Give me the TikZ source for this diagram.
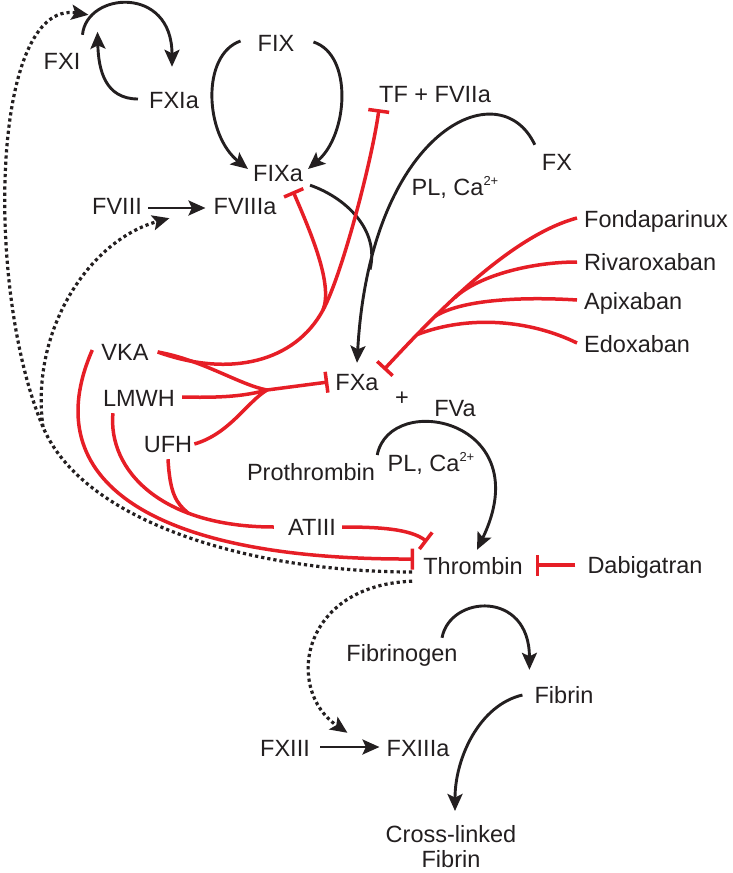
\documentclass[tikz,border=0pt]{standalone}
\usepackage{fontspec}
\setmainfont{Liberation Sans}
\usetikzlibrary{arrows.meta}
\definecolor{inhred}{RGB}{230,30,38}
\definecolor{txtblack}{RGB}{35,31,32}
\newcommand{\ionsup}{\raisebox{10pt}{\fontsize{13}{13}\selectfont 2+}}

\begin{document}
\begin{tikzpicture}
[x=1pt, y=-1pt,
 every node/.style={inner sep=2pt, text height=17pt, text depth=5pt, text=txtblack, font=\fontsize{23.5}{25}\selectfont},
 act/.style={line width=2.9pt, draw=txtblack, -{Stealth[length=17pt, width=15pt, inset=3.5pt]}},
 blackline/.style={line width=2.9pt, draw=txtblack},
 inh/.style={line width=3.5pt, draw=inhred, -{Bar[width=21pt]}},
 redline/.style={line width=3.5pt, draw=inhred},
 feedback/.style={line width=3.2pt, draw=txtblack, dash pattern=on 3.2pt off 3pt, -{Stealth[length=17pt, width=15pt, inset=3.5pt]}}]
\useasboundingbox (0,0) rectangle (733,873);
\node (fxi) at (62,63) {FXI};
\node (fxia) at (174,102) {FXIa};
\node (fix) at (276,45) {FIX};
\node (fixa) at (278,175) {FIXa};
\node (fviii) at (117,208) {FVIII};
\node (fviiia) at (245,208) {FVIIIa};
\node (tf) at (435,96) {TF + FVIIa};
\node (fx) at (557,164) {FX};
\node (plca) at (455,189) {PL, Ca\ionsup};
\node (fonda) [anchor=west] at (582,221) {Fondaparinux};
\node (riva) [anchor=west] at (582,264) {Rivaroxaban};
\node (apix) [anchor=west] at (582,303) {Apixaban};
\node (edox) [anchor=west] at (582,346) {Edoxaban};
\node (vka) at (125,354) {VKA};
\node (lmwh) at (139,400) {LMWH};
\node (ufh) at (168,446) {UFH};
\node (fxa) at (357,384) {FXa};
\node (plus) at (402,399) {+};
\node (fva) at (455,410) {FVa};
\node (prot) at (311,474) {Prothrombin};
\node (plcb) at (431,465) {PL, Ca\ionsup};
\node (atiii) at (312,529) {ATIII};
\node (thr) at (473,568) {Thrombin};
\node (dabi) at (645,567) {Dabigatran};
\node (fbg) at (402,655) {Fibrinogen};
\node (fib) at (564,697) {Fibrin};
\node (fxiii) at (285,750) {FXIII};
\node (fxiiia) at (418,750) {FXIIIa};
\node (xfib) [anchor=north, align=center, text height=, text depth=] at (451,823) {Cross-linked\\Fibrin};
\coordinate (jt) at (323,310);
\coordinate (jx) at (267,390);
\coordinate (dsp) at (43,427);

\draw [act] ([shift={(0,-15)}]fxi.north east) .. controls +(4,-43) and +(0,-82) .. ([shift={(-2,-22)}]fxia.north);
\draw [act] ([shift={(-9,-3)}]fxia.west) .. controls +(-33,0) and +(1,38) .. ([shift={(15,-18)}]fxi.north east);
\draw [act] ([shift={(-15,-4)}]fix.west) .. controls +(-40,14) and +(-43,-34) .. ([shift={(-3,-6)}]fixa.west);
\draw [act] ([shift={(17,-3)}]fix.east) .. controls +(40,13) and +(40,-34) .. ([shift={(3,-6)}]fixa.east);
\draw [act] ([shift={(4,0)}]fviii.east) -- ([shift={(-6,0)}]fviiia.west);
\draw [act] ([shift={(-5,-6)}]fx.north west) .. controls +(-35,-75) and +(13,-233) .. ([shift={(0,-8)}]fxa.north) coordinate[pos=.85] (fxm);
\draw [blackline] ([shift={(5,-3)}]fixa.south east) .. controls +(35,12) and +(10,-40) .. (fxm);
\draw [act] ([shift={(0,-19)}]prot.east) .. controls +(13,-65) and +(63,-130) .. ([shift={(4,-5)}]thr.north);
\draw [act] ([shift={(8,-3)}]fxiii.east) -- ([shift={(-5,-3)}]fxiiia.west);
\draw [act] ([shift={(40,-4)}]fbg.north) .. controls +(8,-43) and +(0,-80) .. ([shift={(-3,-14)}]fib.north west);
\draw [act] ([shift={(-10,-2)}]fib.west) .. controls +(-43,10) and +(0,-53) .. ([shift={(4,-12)}]xfib.north);

\draw [inh] ([shift={(7,-2)}]vka.east) .. controls +(72,26) and +(-28,52) .. (jt) .. controls +(19,-35) and +(-7,51) .. ([shift={(2,0)}]tf.south west);
\draw [inh] (jt) .. controls +(10,-25) and +(19,44) .. ([shift={(15,3)}]fixa.south);
\draw [redline] ([shift={(7,-2)}]vka.east) .. controls +(45,8) and +(-27,-5) .. (jx);
\draw [redline] ([shift={(5,-3)}]lmwh.east) .. controls +(40,1) and +(-22,6) .. (jx);
\draw [redline] ([shift={(0,-2)}]ufh.east) .. controls +(35,-10) and +(-20,12) .. (jx);
\draw [inh] (jx) -- ([shift={(-5,-2)}]fxa.west);
\draw [inh] ([shift={(-7,-4)}]vka.west) .. controls +(-57,130) and +(-264,1) .. ([shift={(-7,-9)}]thr.west);
\draw [redline] ([shift={(12,0)}]lmwh.south west) .. controls +(-5,57) and +(-113,0) .. ([shift={(-12,-2)}]atiii.west) coordinate[pos=.7] (ja);
\draw [redline] (ufh.south) .. controls +(2,35) and +(-12,-10) .. (ja);
\draw [inh] ([shift={(4,-2)}]atiii.east) .. controls +(37,0) and +(-17,-13) .. ([shift={(6,-13)}]thr.north west);
\draw [inh] ([shift={(-10,-2)}]dabi.west) -- ([shift={(11,-3)}]thr.east);
\draw [inh] ([shift={(-5,-3)}]fonda.west) .. controls +(-67,18) and +(51,-55) .. ([shift={(3,-1)}]fxa.north east) coordinate[pos=.6] (f1) coordinate[pos=.7] (f2) coordinate[pos=.8] (f3);
\draw [redline] ([shift={(-5,-2)}]riva.west) .. controls +(-44,0) and +(25,-23) .. (f1);
\draw [redline] ([shift={(-5,-3)}]apix.west) .. controls +(-47,-3) and +(29,-18) .. (f2);
\draw [redline] ([shift={(-5,-3)}]edox.west) .. controls +(-47,-23) and +(52,-20) .. (f3);

\draw [feedback] ([shift={(-9,4)}]thr.west) .. controls +(-162,0) and +(40,95) .. (dsp) .. controls +(-58,-137) and +(-98,-15) .. ([shift={(6,-35)}]fxi.north east);
\draw [feedback] (dsp) .. controls +(-13,-97) and +(-80,22) .. ([shift={(-42,-3)}]fviiia.south west);
\draw [feedback] ([shift={(-9,0)}]thr.south west) .. controls +(-112,4) and +(-63,-43) .. ([shift={(-37,-4)}]fxiiia.north west);
\end{tikzpicture}
\end{document}
